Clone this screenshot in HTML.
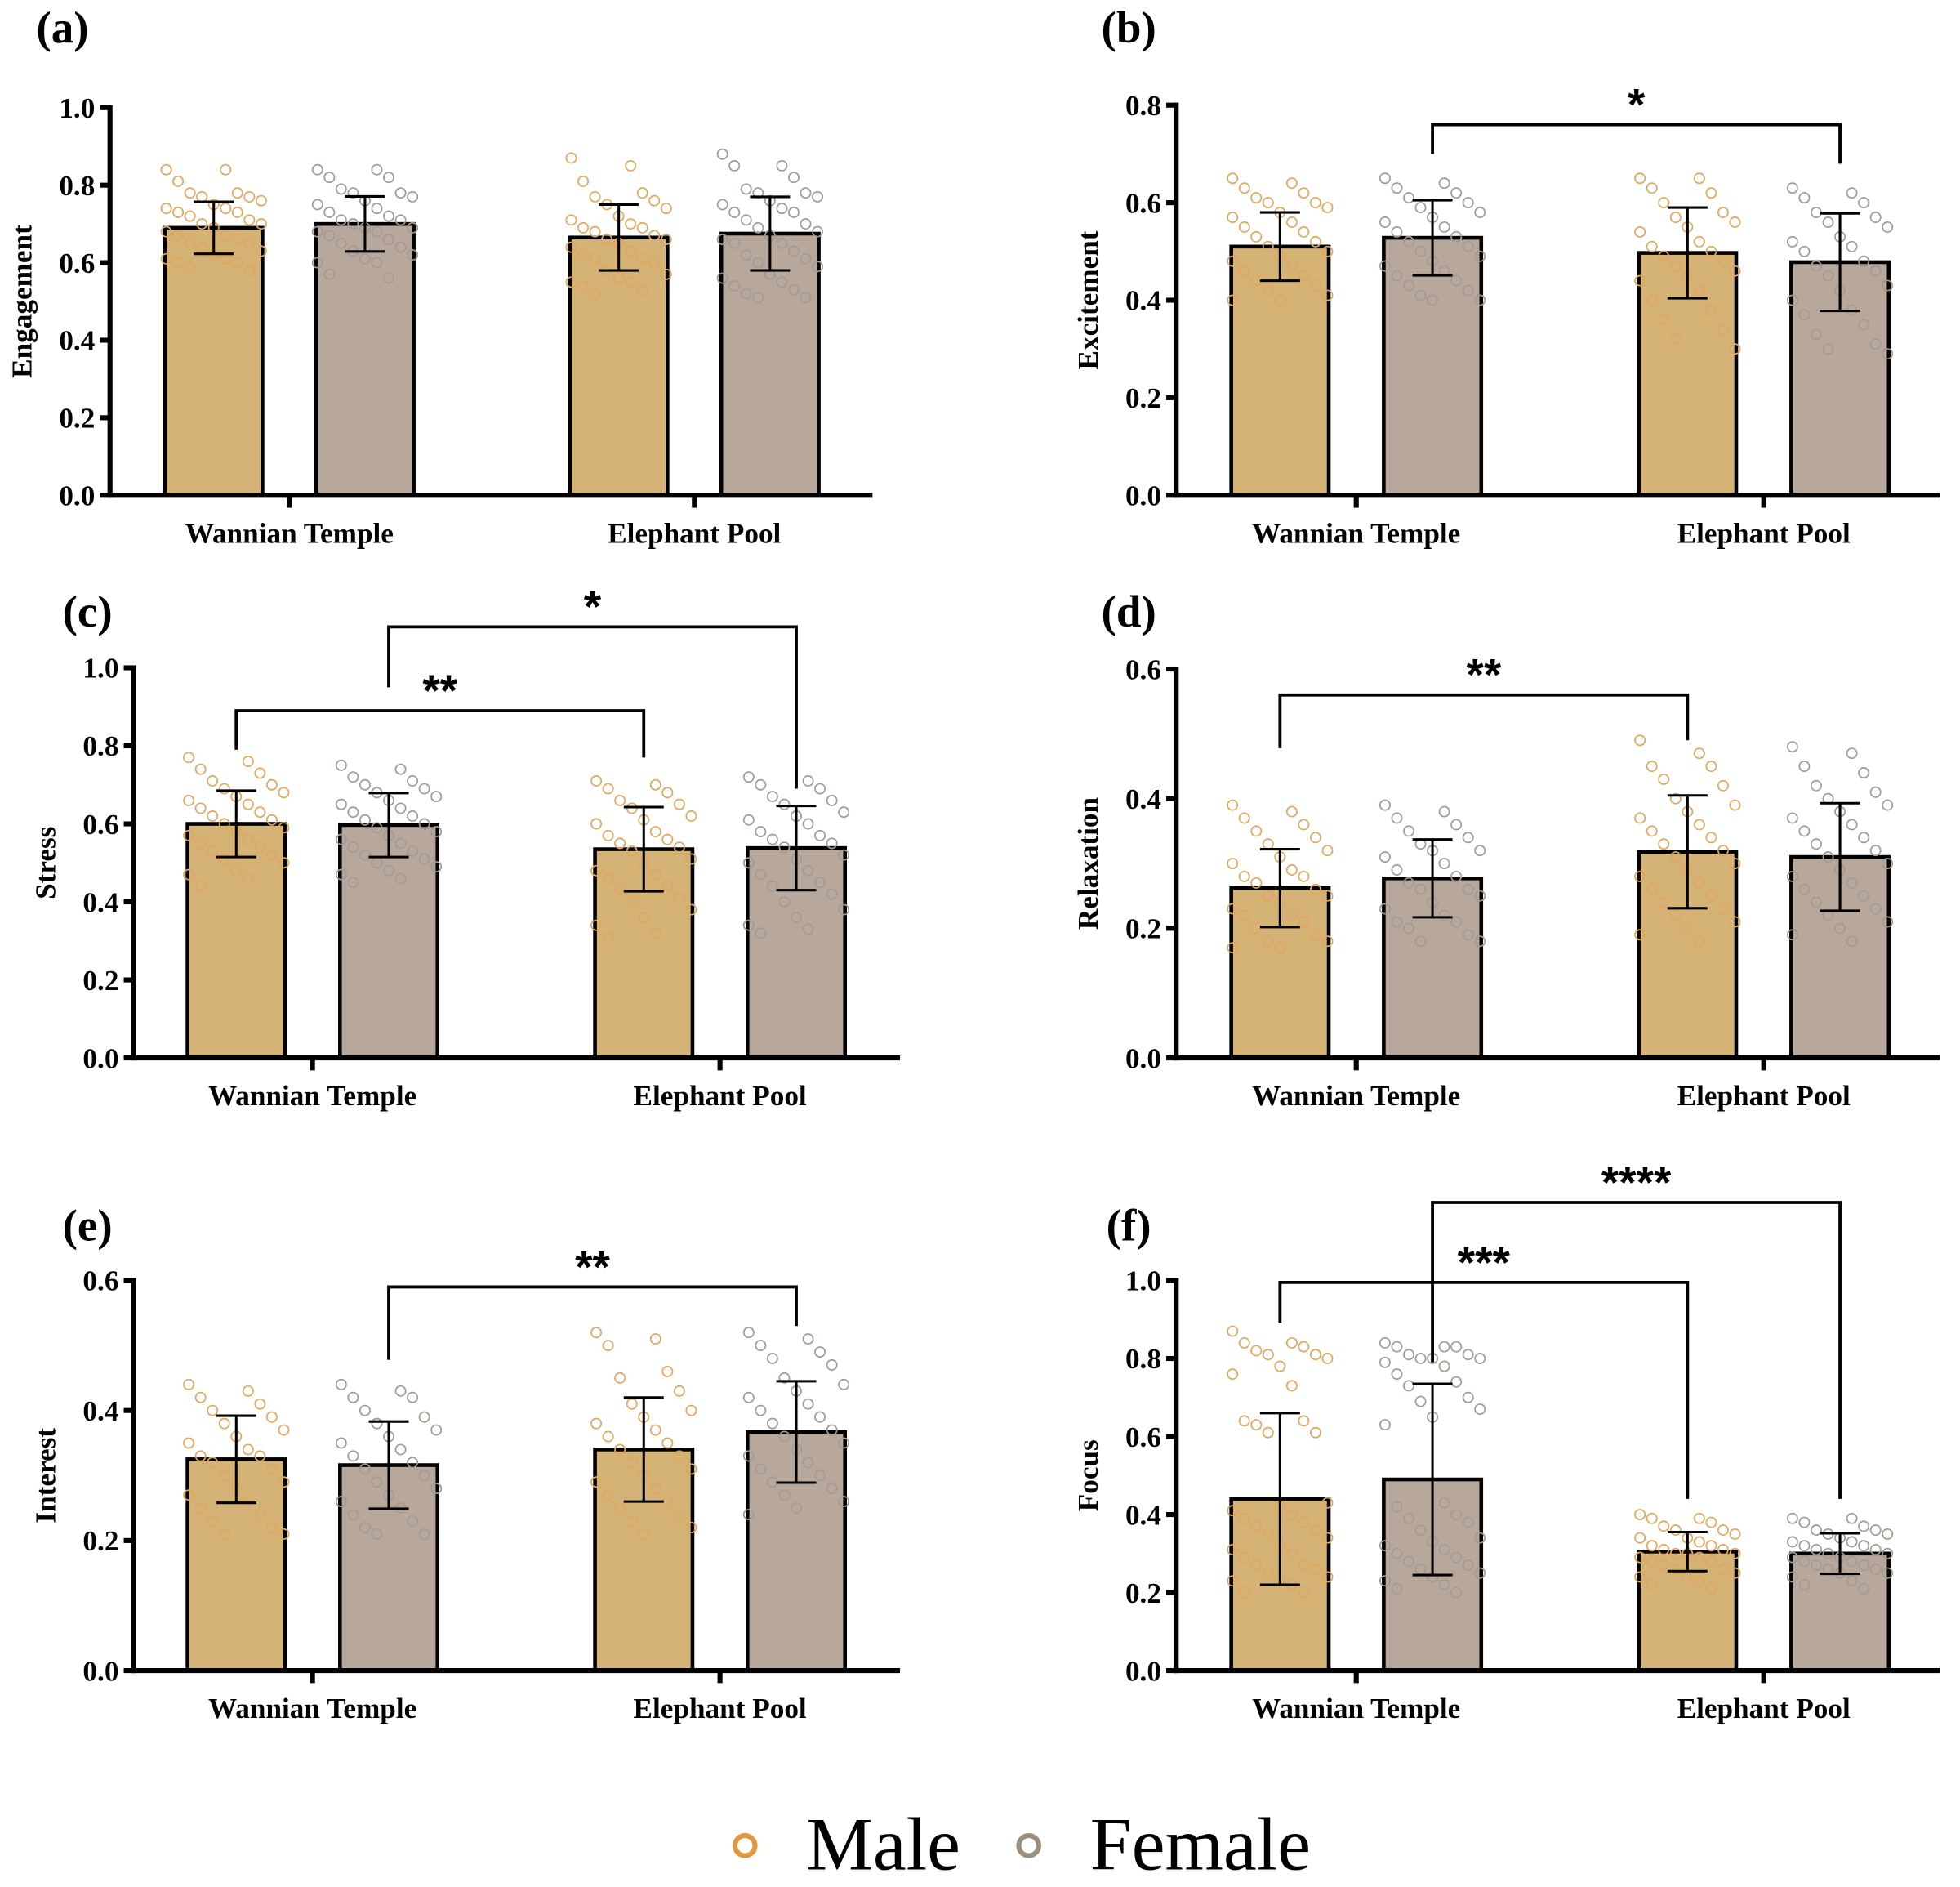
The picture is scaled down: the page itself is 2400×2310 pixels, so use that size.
<!DOCTYPE html>
<html><head><meta charset="utf-8"><style>
html,body{margin:0;padding:0;background:#fff;}
svg{display:block;}
text{font-family:"Liberation Serif","Times New Roman",serif;font-weight:bold;fill:#000;}
</style></head><body>
<svg id="fig" width="2400" height="2310" viewBox="0 0 1568 1509" xmlns="http://www.w3.org/2000/svg"></svg>
<script>
const categories = ["Wannian Temple", "Elephant Pool"];
const groups = ["Male", "Female"];
const panelLabels = ["(a)","(b)","(c)","(d)","(e)","(f)"];
const yTitles = ["Engagement","Excitement","Stress","Relaxation","Interest","Focus"];
const yMaxes = [1.0, 0.8, 1.0, 0.6, 0.6, 1.0];
const yTicks = [[0,0.2,0.4,0.6,0.8,1.0],[0,0.2,0.4,0.6,0.8],[0,0.2,0.4,0.6,0.8,1.0],[0,0.2,0.4,0.6],[0,0.2,0.4,0.6],[0,0.2,0.4,0.6,0.8,1.0]];
// means per panel: [M-WT, F-WT, M-EP, F-EP]
const means = [[0.69,0.70,0.665,0.675],[0.51,0.528,0.497,0.478],[0.60,0.597,0.535,0.538],[0.262,0.277,0.318,0.31],[0.325,0.316,0.34,0.367],[0.44,0.49,0.305,0.30]];
const sds = [[0.067,0.071,0.085,0.095],[0.07,0.077,0.093,0.10],[0.085,0.082,0.108,0.108],[0.06,0.06,0.087,0.083],[0.067,0.067,0.08,0.078],[0.22,0.245,0.05,0.052]];
// significance brackets: [barFrom, barTo, yLevel, leftEnd, rightEnd, label]
const sigs = [[],[[1,3,0.76,0.70,0.68,"*"]],[[0,2,0.89,0.79,0.77,"**"],[1,3,1.105,0.95,0.69,"*"]],[[0,2,0.56,0.478,0.49,"**"]],[[1,3,0.59,0.478,0.53,"**"]],[[0,2,0.995,0.89,0.44,"***"],[1,3,1.2,0.79,0.44,"****"]]];
const points = [
[[.84,.84,.81,.78,.78,.77,.77,.76,.75,.74,.74,.73,.73,.72,.71,.70,.70,.69,.68,.67,.67,.66,.65,.65,.64,.63,.62,.61,.61,.60,.60,.59,.58],
 [.84,.84,.82,.82,.79,.78,.78,.77,.76,.75,.74,.73,.72,.71,.71,.70,.69,.69,.68,.68,.67,.66,.65,.64,.63,.62,.61,.60,.60,.57,.56],
 [.87,.85,.81,.78,.77,.76,.75,.74,.72,.71,.70,.69,.69,.68,.67,.66,.66,.65,.64,.63,.62,.61,.61,.60,.58,.57,.56,.55,.55,.54,.53,.52],
 [.88,.85,.85,.82,.79,.78,.78,.77,.76,.75,.74,.73,.73,.71,.70,.69,.68,.67,.66,.65,.65,.63,.62,.61,.60,.59,.57,.56,.55,.54,.53,.52,.51,.51]],
[[.65,.64,.63,.62,.61,.60,.60,.59,.58,.57,.56,.55,.54,.53,.52,.51,.50,.49,.48,.47,.46,.45,.44,.43,.42,.41,.40,.40],
 [.65,.64,.63,.62,.61,.60,.59,.58,.57,.56,.55,.54,.53,.52,.51,.50,.49,.48,.47,.46,.45,.44,.43,.42,.41,.40,.40],
 [.65,.65,.63,.62,.60,.58,.57,.56,.55,.54,.52,.51,.50,.49,.48,.47,.46,.45,.44,.42,.40,.38,.36,.34,.32,.30],
 [.63,.62,.61,.60,.58,.57,.56,.55,.53,.52,.51,.50,.48,.47,.46,.45,.43,.42,.40,.38,.37,.35,.33,.31,.30,.29]],
[[.77,.76,.74,.73,.71,.70,.69,.68,.67,.66,.65,.64,.63,.62,.61,.60,.59,.58,.57,.56,.55,.54,.53,.52,.51,.50,.48,.47,.46,.44],
 [.75,.74,.72,.71,.70,.69,.68,.67,.66,.65,.64,.63,.62,.61,.60,.59,.58,.57,.56,.55,.54,.53,.52,.51,.50,.49,.48,.47,.46,.45],
 [.71,.70,.69,.68,.66,.65,.64,.62,.61,.60,.58,.57,.56,.55,.54,.53,.51,.50,.48,.47,.46,.44,.43,.41,.40,.38,.36,.34,.32,.31],
 [.72,.71,.70,.69,.67,.66,.65,.63,.62,.61,.60,.58,.57,.56,.55,.54,.52,.51,.50,.48,.47,.45,.44,.42,.40,.38,.36,.34,.33,.32]],
[[.39,.38,.37,.36,.35,.34,.33,.32,.31,.30,.29,.28,.28,.27,.26,.25,.25,.24,.23,.22,.22,.21,.20,.19,.18,.18,.17,.17],
 [.39,.38,.37,.36,.35,.34,.33,.32,.32,.31,.30,.29,.28,.27,.26,.26,.25,.24,.23,.22,.21,.21,.20,.19,.18,.18],
 [.49,.47,.45,.45,.43,.42,.40,.39,.38,.37,.36,.35,.34,.33,.32,.31,.30,.29,.28,.27,.26,.25,.24,.23,.22,.21,.20,.19,.18],
 [.48,.47,.45,.44,.42,.41,.40,.39,.38,.37,.36,.35,.34,.33,.32,.31,.30,.29,.28,.27,.26,.25,.24,.23,.22,.21,.20,.19,.18]],
[[.44,.43,.42,.41,.40,.39,.38,.37,.36,.35,.34,.33,.33,.32,.31,.30,.29,.28,.27,.26,.25,.24,.23,.22,.21,.21],
 [.44,.43,.42,.42,.40,.39,.38,.37,.36,.35,.34,.33,.32,.31,.30,.29,.28,.27,.26,.25,.24,.23,.22,.21,.21],
 [.52,.51,.50,.46,.45,.43,.41,.40,.39,.38,.37,.36,.35,.34,.33,.32,.31,.30,.29,.28,.27,.26,.25,.24,.23,.22,.21],
 [.52,.51,.50,.49,.48,.47,.45,.44,.43,.42,.41,.40,.39,.38,.37,.36,.35,.34,.33,.32,.31,.30,.29,.28,.27,.26,.25,.24]],
[[.87,.84,.84,.83,.82,.81,.81,.80,.78,.76,.73,.64,.64,.63,.61,.61,.43,.42,.41,.40,.39,.38,.37,.36,.35,.34,.32,.31,.30,.29,.27,.27,.26,.25,.24,.23,.23,.22,.20,.20],
 [.84,.83,.83,.83,.81,.81,.80,.80,.80,.79,.78,.76,.74,.73,.70,.69,.67,.65,.63,.43,.42,.40,.39,.38,.36,.34,.33,.32,.31,.30,.29,.28,.27,.26,.25,.24,.23,.22,.21,.20],
 [.40,.39,.39,.38,.37,.36,.36,.35,.34,.34,.33,.32,.32,.31,.31,.30,.30,.30,.29,.29,.28,.28,.27,.26,.26,.25,.24,.24,.23,.22,.21],
 [.39,.39,.38,.37,.36,.36,.35,.35,.34,.33,.33,.32,.32,.31,.31,.30,.30,.29,.29,.28,.28,.27,.27,.26,.26,.25,.25,.24,.23,.22,.21]]
];

// layout (not data)
const layouts = [
 {ax:88, y0:396, yTop:86, xEnd:698, bars:[132,253,456,577], lx:50, ly:22},
 {ax:941, y0:396, yTop:84, xEnd:1552, bars:[985,1107,1311,1433], lx:903, ly:22},
 {ax:107, y0:846, yTop:534, xEnd:720, bars:[150,272,476,598], lx:70, ly:489},
 {ax:941, y0:846, yTop:535, xEnd:1552, bars:[985,1107,1311,1433], lx:903, ly:489},
 {ax:107, y0:1336, yTop:1024, xEnd:720, bars:[150,272,476,598], lx:70, ly:980},
 {ax:941, y0:1336, yTop:1024, xEnd:1552, bars:[985,1107,1311,1433], lx:903, ly:980}
];
const BW = 78;
const fills = ["#d5b275","#b7a89b"];
const strokes = ["#e2a75e","#a39a93"];
const SERIF = "'Liberation Serif','Times New Roman',serif";
const NS = "http://www.w3.org/2000/svg";
const svg = document.getElementById("fig");
function mk(tag, attrs, parent, txt){
  const e = document.createElementNS(NS, tag);
  for (const k in attrs) e.setAttribute(k, attrs[k]);
  if (txt !== undefined) e.textContent = txt;
  (parent||svg).appendChild(e);
  return e;
}

layouts.forEach((L, p) => {
  const g = mk("g", {});
  
  
  const yScale = v => L.y0 - v / yMaxes[p] * (L.y0 - L.yTop);
  const bx = i => L.bars[i];
  const cx = i => L.bars[i] + BW/2;

  const pl = mk("text", {x:L.lx, y:L.ly+12, "font-size":36, "text-anchor":"middle", "font-family":SERIF}, g, panelLabels[p]);
  
  

  for (let i=0;i<4;i++){
    const top = yScale(means[p][i]);
    const r = mk("rect", {x:bx(i), y:top, width:BW, height:L.y0-top, fill:fills[i%2], stroke:"#000", "stroke-width":3}, g);
    
    
  }
  for (let i=0;i<4;i++){
    const pts = points[p][i];
    pts.forEach((v, k) => {
      const off = (((k*5)%9) - 4) * 9.5;
      const c = mk("circle", {cx:cx(i)+off, cy:yScale(v), r:4, fill:"none", stroke:strokes[i%2], "stroke-width":1.1}, g);
      
      
    });
  }
  for (let i=0;i<4;i++){
    const hi = yScale(means[p][i]+sds[p][i]), lo = yScale(means[p][i]-sds[p][i]);
    const eg = mk("g", {stroke:"#000", "stroke-width":2}, g);
    
    
    mk("line", {x1:cx(i), x2:cx(i), y1:hi, y2:lo}, eg);
    mk("line", {x1:cx(i)-16, x2:cx(i)+16, y1:hi, y2:hi}, eg);
    mk("line", {x1:cx(i)-16, x2:cx(i)+16, y1:lo, y2:lo}, eg);
  }
  const ax = mk("g", {stroke:"#000", "stroke-width":4}, g);
  
  
  mk("line", {x1:L.ax, x2:L.ax, y1:L.yTop-2, y2:L.y0+2}, ax);
  mk("line", {x1:L.ax-2, x2:L.xEnd, y1:L.y0, y2:L.y0}, ax);
  yTicks[p].forEach(t => {
    const y = yScale(t);
    mk("line", {x1:L.ax-8, x2:L.ax, y1:y, y2:y}, ax);
    const tl = mk("text", {x:L.ax-12, y:y+8, "font-size":23, "text-anchor":"end", stroke:"none", "font-family":SERIF}, g, t.toFixed(1));
    
    
  });
  categories.forEach((c, j) => {
    const x = (cx(2*j) + cx(2*j+1)) / 2;
    mk("line", {x1:x, x2:x, y1:L.y0, y2:L.y0+10}, ax);
    const cl = mk("text", {x:x, y:L.y0+38, "font-size":23, "text-anchor":"middle", "font-family":SERIF}, g, c);
    
    
  });
  const ty = (L.y0 + L.yTop)/2;
  const yt = mk("text", {x:0, y:0, "font-size":23, "text-anchor":"middle", "font-family":SERIF, transform:`translate(${L.ax-63},${ty}) rotate(-90)`}, g, yTitles[p]);
  
  

  sigs[p].forEach(s => {
    const [a, b, lvl, le, re, lab] = s;
    const y = yScale(lvl);
    const sg = mk("g", {}, g);
    
    
    mk("polyline", {points:`${cx(a)},${yScale(le)} ${cx(a)},${y} ${cx(b)},${y} ${cx(b)},${yScale(re)}`, fill:"none", stroke:"#000", "stroke-width":2.5}, sg);
    mk("text", {x:(cx(a)+cx(b))/2, y:y-4, "font-size":36, "text-anchor":"middle", style:"font-family:'Liberation Sans',sans-serif"}, sg, lab);
  });
});

const lg = mk("g", {});


const e1 = mk("g", {}, lg);


mk("circle", {cx:596, cy:1476, r:8, fill:"none", stroke:"#e0973f", "stroke-width":4}, e1);
mk("text", {x:645, y:1495, "font-size":60, "font-family":SERIF, style:"font-weight:normal"}, e1, "Male");
const e2 = mk("g", {}, lg);


mk("circle", {cx:823, cy:1476, r:8, fill:"none", stroke:"#9e8e80", "stroke-width":4}, e2);
mk("text", {x:872, y:1495, "font-size":60, "font-family":SERIF, style:"font-weight:normal"}, e2, "Female");
</script>
</body></html>
